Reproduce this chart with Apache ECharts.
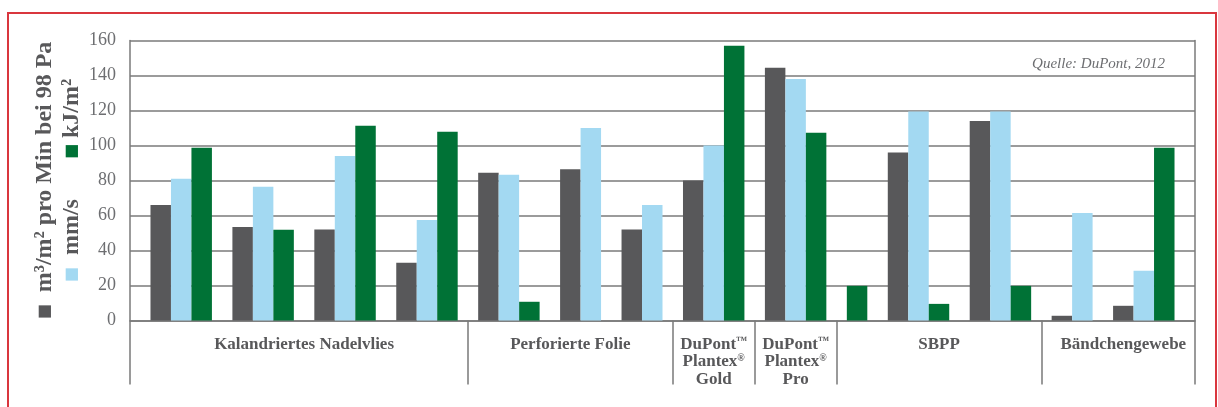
<!DOCTYPE html>
<html>
<head>
<meta charset="utf-8">
<script src="https://cdn.jsdelivr.net/npm/echarts@6/dist/echarts.min.js"></script>
<style>
body{margin:0;background:#fff;}
#show{position:absolute;left:0;top:0;width:1218px;height:407px;}
#rahmen{position:absolute;left:7px;top:12px;width:1206px;height:420px;border:2px solid #d9363e;pointer-events:none;}
</style>
</head>
<body>
<div id="show"></div>
<div id="rahmen"></div>
<script>
// Kategorien (untere Zeile der x-Achse)
var gruppen = ['Kalandriertes Nadelvlies', 'Perforierte Folie',
    'DuPont{tm|™}\nPlantex{r|®}\nGold', 'DuPont{tm|™}\nPlantex{r|®}\nPro',
    'SBPP', 'Bändchengewebe'];
// zu welcher Kategorie jede Balkengruppe gehört
var gruppeVon = [0, 0, 0, 0, 1, 1, 1, 2, 3, 4, 4, 4, 5, 5];
// m³/m² pro Min bei 98 Pa
var luft = [66, 53.5, 52, 33, 84.5, 86.5, 52, 80, 144.5, null, 96, 114, 2.7, 8.4];
// mm/s
var wasser = [81, 76.5, 94, 57.5, 83.3, 110, 66, 100, 138, null, 119.5, 119.5, 61.5, 28.5];
// kJ/m²
var energie = [98.7, 51.8, 111.3, 107.8, 10.7, null, null, 157, 107.3, 19.8, 9.5, 19.8, null, 98.7];
var yMin = 0, yMax = 160, yStep = 20;

var farben = ['#58585a', '#a3d9f2', '#007236'];
var reihen = [luft, wasser, energie];
var namen = ['m³/m² pro Min bei 98 Pa', 'mm/s', 'kJ/m²'];

// Plätze: ein Platz pro Balken, leere Plätze zwischen den Gruppen
var slots = [], daten = [[], [], []], trenner = [], labelPos = {};
function leer() { slots.push('s' + slots.length); daten[0].push(null); daten[1].push(null); daten[2].push(null); }
leer();
var grenzen = [-0.5];
for (var i = 0; i < luft.length; i++) {
    if (i > 0) {
        leer();
        if (gruppeVon[i] != gruppeVon[i - 1]) { trenner.push(slots.length - 1); grenzen.push(slots.length - 1); }
    }
    for (var k = 0; k < 3; k++) {
        if (reihen[k][i] != null) {
            slots.push('s' + slots.length);
            for (var j = 0; j < 3; j++) daten[j].push(j == k ? reihen[k][i] : null);
        }
    }
}
leer();
grenzen.push(slots.length - 0.5);
for (var g = 0; g < gruppen.length; g++) {
    labelPos[Math.round((grenzen[g] + grenzen[g + 1]) / 2)] = gruppen[g];
}

var myChart = echarts.init(document.getElementById('show'));
var schrift = 'Liberation Serif';
var grau = '#7a7a7a';

var series = [];
for (var s = 0; s < 3; s++) {
    series.push({
        name: namen[s],
        type: 'bar',
        stack: 'alle',
        barWidth: '100%',
        xAxisIndex: 0,
        itemStyle: {color: farben[s]},
        data: daten[s]
    });
}

var option = {
    animation: false,
    title: {
        text: 'Quelle: DuPont, 2012',
        right: 48,
        top: 52,
        textStyle: {fontFamily: schrift, fontStyle: 'italic', fontWeight: 'normal', fontSize: 15, color: '#6d6e71'}
    },
    grid: {left: 130, right: 23, top: 40.5, height: 280, containLabel: false, outerBoundsMode: 'none'},
    xAxis: [
        {
            type: 'category',
            data: slots,
            position: 'bottom',
            axisLine: {lineStyle: {color: grau, width: 1.5}},
            axisTick: {show: false},
            axisLabel: {show: false},
            splitLine: {show: false}
        },
        {
            type: 'category',
            data: slots,
            position: 'bottom',
            offset: 0,
            axisLine: {show: false},
            axisTick: {
                show: true,
                alignWithLabel: true,
                length: 64,
                interval: function (idx) { return trenner.indexOf(idx) >= 0; },
                lineStyle: {color: grau, width: 1.5}
            },
            axisLabel: {
                interval: function (idx) { return labelPos[idx] != null; },
                formatter: function (v, idx) { return labelPos[idx] || ''; },
                margin: 15,
                fontFamily: schrift,
                fontWeight: 'bold',
                fontSize: 17,
                lineHeight: 17.5,
                color: '#58585a',
                rich: {
                    tm: {fontFamily: schrift, fontSize: 11, fontWeight: 'bold', color: '#58585a', lineHeight: 17.5, verticalAlign: 'top'},
                    r: {fontFamily: schrift, fontSize: 10, fontWeight: 'bold', color: '#58585a', lineHeight: 17.5, verticalAlign: 'top'}
                }
            },
            splitLine: {show: false}
        },
        {
            type: 'category',
            data: ['rand'],
            position: 'bottom',
            offset: 0,
            axisLine: {show: false},
            axisTick: {show: true, length: 64, interval: 0, lineStyle: {color: grau, width: 1.5}},
            axisLabel: {show: false},
            splitLine: {show: false}
        }
    ],
    yAxis: [
        {
            type: 'value',
            min: yMin,
            max: yMax,
            interval: yStep,
            name: '{g|■}  m³/m² pro Min bei 98 Pa\n{b|■}  mm/s{sp| }{gr|■} kJ/m²',
            nameLocation: 'middle',
            nameRotate: 90,
            nameGap: 45,
            nameMoveOverlap: false,
            nameTextStyle: {
                fontFamily: schrift, fontWeight: 'bold', fontSize: 24, color: '#58585a', lineHeight: 27,
                rich: {
                    g: {fontFamily: 'DejaVu Sans', fontSize: 16, color: farben[0], lineHeight: 27},
                    b: {fontFamily: 'DejaVu Sans', fontSize: 16, color: farben[1], lineHeight: 27},
                    gr: {fontFamily: 'DejaVu Sans', fontSize: 16, color: farben[2], lineHeight: 27},
                    sp: {width: 40, lineHeight: 27}
                }
            },
            axisLine: {show: true, lineStyle: {color: grau, width: 1.5}},
            axisTick: {show: false},
            axisLabel: {fontFamily: schrift, fontSize: 18, color: '#6d6e71', margin: 14},
            splitLine: {lineStyle: {color: grau, width: 1.5}}
        },
        {
            type: 'value',
            position: 'right',
            min: yMin,
            max: yMax,
            interval: yStep,
            axisLine: {show: true, lineStyle: {color: grau, width: 1.5}},
            axisTick: {show: false},
            axisLabel: {show: false},
            splitLine: {show: false}
        }
    ],
    series: series
};
myChart.setOption(option);
</script>
</body>
</html>
